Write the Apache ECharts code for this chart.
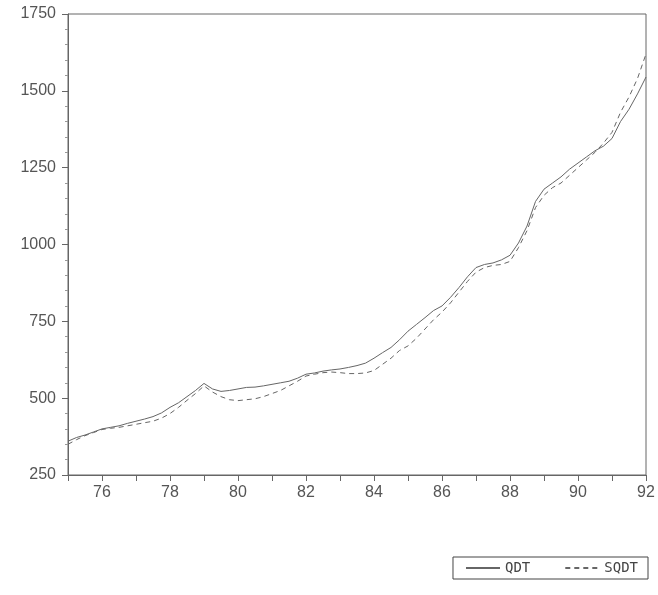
<!DOCTYPE html>
<html>
<head>
<meta charset="utf-8">
<script src="https://cdn.jsdelivr.net/npm/echarts@6/dist/echarts.min.js"></script>
<style>
  html, body { margin: 0; padding: 0; background: #fff; }
  #main { width: 658px; height: 595px; }
</style>
</head>
<body>
<div id="main"></div>
<script>
// quarters 1975Q1 .. 1992Q1
let quarters = [];
for (let y = 75; y <= 92; y++) {
  for (let q = 1; q <= 4; q++) {
    if (y === 92 && q > 1) break;
    quarters.push(y + 'Q' + q);
  }
}

// QDT (solid line)
let qdt = [
  360, 372, 380, 390,
  400, 405, 410, 418,
  425, 432, 440, 452,
  470, 485, 505, 525,
  548, 530, 522, 525,
  530, 535, 536, 540,
  545, 550, 555, 565,
  578, 582, 588, 592,
  595, 600, 606, 614,
  630, 648, 665, 690,
  718, 740, 762, 785,
  800, 828, 860, 895,
  925, 935, 940, 950,
  965, 1005, 1060, 1140,
  1180, 1200, 1220, 1245,
  1265, 1285, 1305, 1320,
  1345, 1400, 1440, 1490,
  1545
];

// SQDT (dashed line)
let sqdt = [
  350, 365, 378, 388,
  398, 402, 405, 410,
  415, 420, 425, 435,
  450, 470, 493, 515,
  540, 520, 505, 495,
  492, 495, 498, 505,
  515, 525, 540, 555,
  572, 578, 583, 585,
  583, 580, 580, 582,
  590, 610, 630, 655,
  670, 695, 725, 755,
  780, 810, 845, 880,
  910, 925, 932, 935,
  945, 990, 1045, 1120,
  1160, 1185, 1200, 1225,
  1250, 1275, 1300, 1330,
  1365, 1430, 1480, 1540,
  1620
];

let yTicks = [250, 500, 750, 1000, 1250, 1500, 1750];

(function () {
  let myChart = echarts.init(document.getElementById('main'));

  // 每年第一季度
  function isYearStart(v) {
    return /Q1$/.test(v);
  }

  let option = {
    backgroundColor: '#fff',
    animation: false,
    color: ['#666', '#666'],
    grid: {
      left: 68,
      right: 12,
      top: 14,
      bottom: 120,
      show: true,
      borderColor: '#666',
      borderWidth: 1
    },
    legend: {
      right: 10,
      top: 557,
      itemWidth: 34,
      itemHeight: 10,
      itemGap: 34,
      padding: [4, 10, 4, 12],
      borderColor: '#444',
      borderWidth: 1,
      itemStyle: { opacity: 0 },
      textStyle: {
        fontFamily: 'DejaVu Sans Mono',
        fontSize: 14,
        color: '#444'
      },
      data: ['QDT', 'SQDT']
    },
    xAxis: {
      type: 'category',
      data: quarters,
      boundaryGap: false,
      axisLine: { lineStyle: { color: '#666' } },
      axisTick: {
        length: 6,
        interval: function (i, v) { return isYearStart(v); },
        lineStyle: { color: '#666' }
      },
      axisLabel: {
        margin: 10,
        fontFamily: 'Liberation Sans',
        fontSize: 16,
        color: '#555',
        interval: function (i, v) {
          let y = parseInt(v, 10);
          return isYearStart(v) && y % 2 === 0;
        },
        formatter: function (v) { return v.slice(0, 2); }
      },
      splitLine: { show: false }
    },
    yAxis: {
      type: 'value',
      min: yTicks[0],
      max: yTicks[yTicks.length - 1],
      interval: 250,
      axisLine: { show: true, lineStyle: { color: '#666' } },
      axisTick: { show: true, length: 6, lineStyle: { color: '#666' } },
      minorTick: { show: true, splitNumber: 5, length: 3, lineStyle: { color: '#999' } },
      axisLabel: {
        margin: 12,
        fontFamily: 'Liberation Sans',
        fontSize: 16,
        color: '#555',
        formatter: function (v) { return String(v); }
      },
      splitLine: { show: false }
    },
    series: [
      {
        name: 'QDT',
        type: 'line',
        data: qdt,
        symbol: 'none',
        itemStyle: { color: '#666' },
        lineStyle: { color: '#666', width: 1 }
      },
      {
        name: 'SQDT',
        type: 'line',
        data: sqdt,
        symbol: 'none',
        itemStyle: { color: '#666' },
        lineStyle: { color: '#666', width: 1, type: [5, 4] }
      }
    ]
  };

  myChart.setOption(option);
})();
</script>
</body>
</html>
